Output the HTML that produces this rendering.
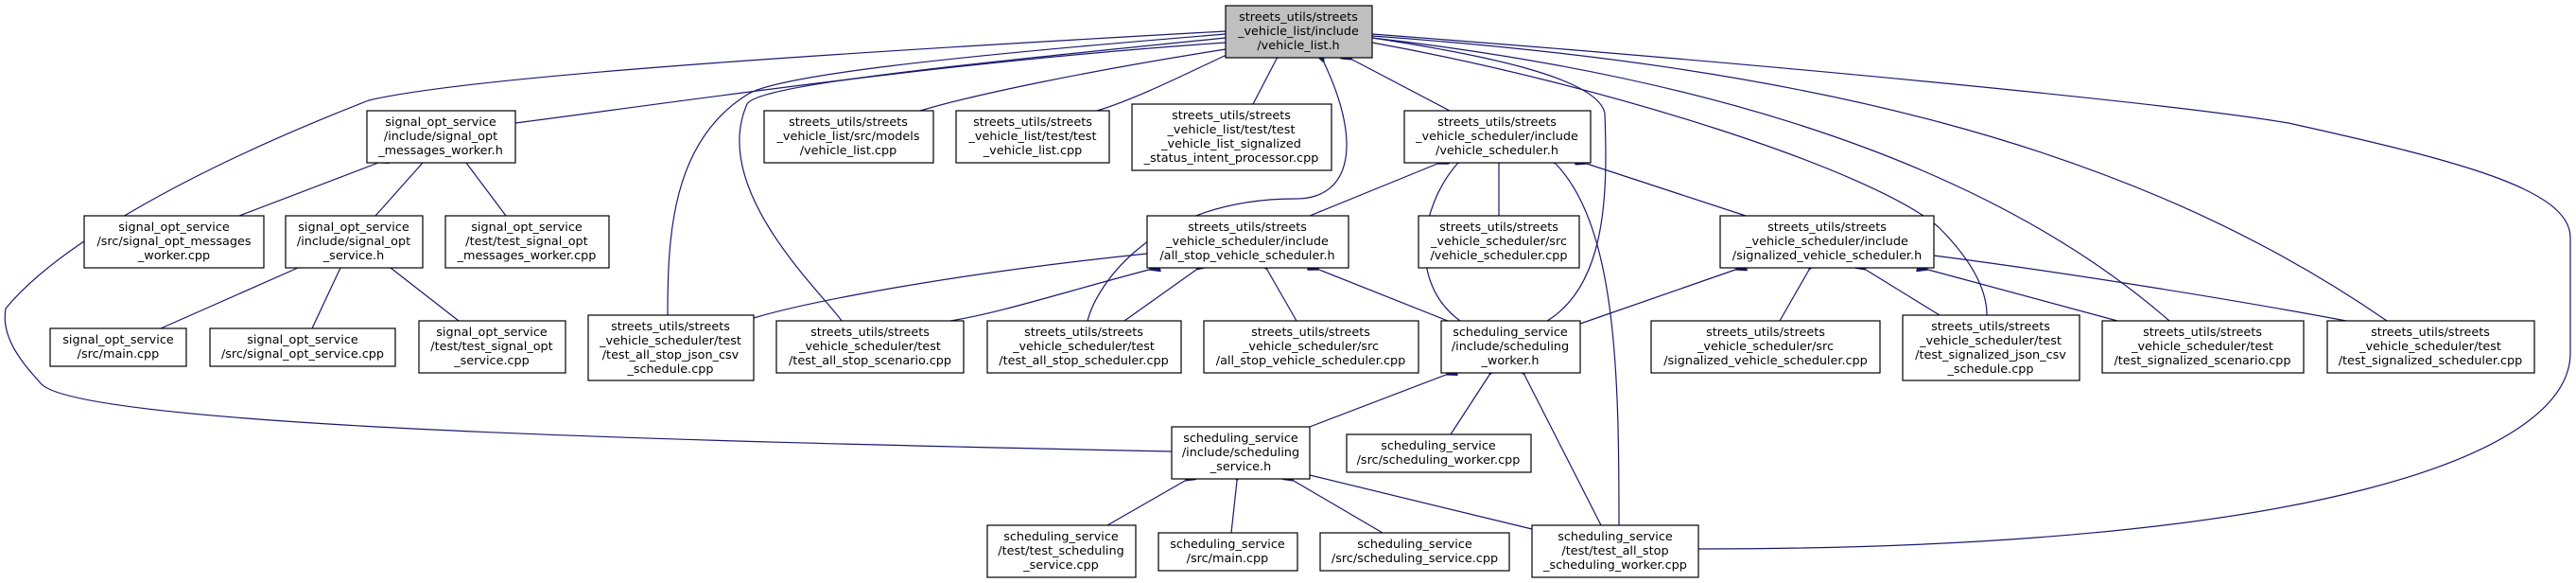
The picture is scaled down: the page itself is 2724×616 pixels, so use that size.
<!DOCTYPE html>
<html><head><meta charset="utf-8"><style>
html,body{margin:0;padding:0;background:#fff;}
svg{display:block;}
text{font-family:"DejaVu Sans","Liberation Sans",sans-serif;font-size:12.8px;fill:#000;text-anchor:middle;}
rect{stroke:#000;stroke-width:1.2;fill:#fff;}
path{fill:none;stroke:#191970;stroke-width:1.2;marker-start:url(#a);}
</style></head><body>
<svg width="2724" height="616" viewBox="0 0 2724 616" xmlns="http://www.w3.org/2000/svg">
<defs><marker id="a" markerUnits="userSpaceOnUse" markerWidth="12" markerHeight="10" refX="0" refY="5" orient="auto-start-reverse"><path d="M0,5 L12,0 L12,10 Z" style="fill:#191970;stroke:#191970;marker-start:none"/></marker></defs>

<path d="M1296,45 C1000,65 700,110 545,130"/>
<path d="M1296,52 C1150,75 1030,100 973,117"/>
<path d="M1297,58 C1250,80 1200,105 1160,117"/>
<path d="M1350,62 L1325,110"/>
<path d="M1430,63 L1533,117"/>
<path d="M1296,36 C1000,60 820,80 790,100 C710,150 706,250 706,333"/>
<path d="M1296,40 C1000,70 800,90 790,110 C750,200 870,310 890,339"/>
<path d="M1400,66 C1440,150 1430,210 1370,210 C1220,210 1160,300 1150,339"/>
<path d="M1296,33 C900,55 500,80 390,106 C200,180 60,260 6,326 C0,360 30,390 43,405 C80,450 700,466 1239,477"/>
<path d="M1451,40 C1550,55 1690,80 1697,120 C1700,200 1700,300 1636,339"/>
<path d="M1451,45 C1700,90 1980,180 2050,240 C2090,280 2101,310 2101,333"/>
<path d="M1451,40 C1800,80 2100,170 2294,339"/>
<path d="M1451,38 C1900,70 2250,150 2524,339"/>
<path d="M1451,36 C1900,70 2300,110 2420,130 C2600,170 2718,200 2718,251 L2718,373 C2718,480 2450,580 1796,580"/>

<path d="M400,172 L253,228"/>
<path d="M447,172 L397,228"/>
<path d="M493,172 L535,228"/>
<path d="M315,283 L170,347"/>
<path d="M360,283 L330,347"/>
<path d="M413,283 L485,339"/>
<path d="M1520,173 L1385,228"/>
<path d="M1541,173 C1500,220 1490,300 1544,339"/>
<path d="M1585,173 L1585,228"/>
<path d="M1678,173 L1846,228"/>
<path d="M1645,173 C1710,240 1712,400 1712,555"/>
<path d="M1213,268 C1000,290 850,320 797,336"/>
<path d="M1215,285 C1120,310 1060,330 1005,339"/>
<path d="M1265,285 L1189,339"/>
<path d="M1340,285 L1371,339"/>
<path d="M1395,285 L1531,339"/>
<path d="M1835,285 L1671,342"/>
<path d="M1913,285 L1882,339"/>
<path d="M1973,285 L2051,333"/>
<path d="M2039,285 L2239,339"/>
<path d="M2045,270 C2200,290 2380,320 2481,339"/>
<path d="M1529,396 L1385,451"/>
<path d="M1575,396 L1534,459"/>
<path d="M1612,396 L1693,555"/>
<path d="M1253,508 L1171,555"/>
<path d="M1308,508 L1302,563"/>
<path d="M1368,508 L1462,563"/>
<path d="M1385,502 L1620,559"/>

<rect x="1296" y="6" width="155" height="55" style="fill:#bfbfbf"/>
<text x="1373" y="22">streets_utils/streets</text><text x="1373" y="37">_vehicle_list/include</text><text x="1373" y="52">/vehicle_list.h</text>

<rect x="388" y="117" width="157" height="55"/>
<text x="466" y="133">signal_opt_service</text><text x="466" y="148">/include/signal_opt</text><text x="466" y="163">_messages_worker.h</text>

<rect x="808" y="117" width="179" height="55"/>
<text x="897" y="133">streets_utils/streets</text><text x="897" y="148">_vehicle_list/src/models</text><text x="897" y="163">/vehicle_list.cpp</text>

<rect x="1011" y="117" width="162" height="55"/>
<text x="1092" y="133">streets_utils/streets</text><text x="1092" y="148">_vehicle_list/test/test</text><text x="1092" y="163">_vehicle_list.cpp</text>

<rect x="1197" y="110" width="211" height="70"/>
<text x="1302" y="126">streets_utils/streets</text><text x="1302" y="141">_vehicle_list/test/test</text><text x="1302" y="156">_vehicle_list_signalized</text><text x="1302" y="171">_status_intent_processor.cpp</text>

<rect x="1485" y="117" width="197" height="55"/>
<text x="1583" y="133">streets_utils/streets</text><text x="1583" y="148">_vehicle_scheduler/include</text><text x="1583" y="163">/vehicle_scheduler.h</text>

<rect x="89" y="228" width="190" height="55"/>
<text x="184" y="244">signal_opt_service</text><text x="184" y="259">/src/signal_opt_messages</text><text x="184" y="274">_worker.cpp</text>

<rect x="302" y="228" width="145" height="55"/>
<text x="374" y="244">signal_opt_service</text><text x="374" y="259">/include/signal_opt</text><text x="374" y="274">_service.h</text>

<rect x="471" y="228" width="173" height="55"/>
<text x="557" y="244">signal_opt_service</text><text x="557" y="259">/test/test_signal_opt</text><text x="557" y="274">_messages_worker.cpp</text>

<rect x="1213" y="228" width="213" height="55"/>
<text x="1319" y="244">streets_utils/streets</text><text x="1319" y="259">_vehicle_scheduler/include</text><text x="1319" y="274">/all_stop_vehicle_scheduler.h</text>

<rect x="1500" y="228" width="170" height="55"/>
<text x="1585" y="244">streets_utils/streets</text><text x="1585" y="259">_vehicle_scheduler/src</text><text x="1585" y="274">/vehicle_scheduler.cpp</text>

<rect x="1819" y="228" width="226" height="55"/>
<text x="1932" y="244">streets_utils/streets</text><text x="1932" y="259">_vehicle_scheduler/include</text><text x="1932" y="274">/signalized_vehicle_scheduler.h</text>

<rect x="53" y="347" width="144" height="40"/>
<text x="125" y="363">signal_opt_service</text><text x="125" y="378">/src/main.cpp</text>

<rect x="222" y="347" width="196" height="40"/>
<text x="320" y="363">signal_opt_service</text><text x="320" y="378">/src/signal_opt_service.cpp</text>

<rect x="443" y="339" width="155" height="55"/>
<text x="520" y="355">signal_opt_service</text><text x="520" y="370">/test/test_signal_opt</text><text x="520" y="385">_service.cpp</text>

<rect x="622" y="333" width="175" height="69"/>
<text x="709" y="349">streets_utils/streets</text><text x="709" y="364">_vehicle_scheduler/test</text><text x="709" y="379">/test_all_stop_json_csv</text><text x="709" y="394">_schedule.cpp</text>

<rect x="821" y="339" width="198" height="55"/>
<text x="920" y="355">streets_utils/streets</text><text x="920" y="370">_vehicle_scheduler/test</text><text x="920" y="385">/test_all_stop_scenario.cpp</text>

<rect x="1044" y="339" width="205" height="55"/>
<text x="1146" y="355">streets_utils/streets</text><text x="1146" y="370">_vehicle_scheduler/test</text><text x="1146" y="385">/test_all_stop_scheduler.cpp</text>

<rect x="1273" y="339" width="227" height="55"/>
<text x="1386" y="355">streets_utils/streets</text><text x="1386" y="370">_vehicle_scheduler/src</text><text x="1386" y="385">/all_stop_vehicle_scheduler.cpp</text>

<rect x="1524" y="339" width="147" height="55"/>
<text x="1597" y="355">scheduling_service</text><text x="1597" y="370">/include/scheduling</text><text x="1597" y="385">_worker.h</text>

<rect x="1746" y="339" width="242" height="55"/>
<text x="1867" y="355">streets_utils/streets</text><text x="1867" y="370">_vehicle_scheduler/src</text><text x="1867" y="385">/signalized_vehicle_scheduler.cpp</text>

<rect x="2012" y="333" width="187" height="69"/>
<text x="2105" y="349">streets_utils/streets</text><text x="2105" y="364">_vehicle_scheduler/test</text><text x="2105" y="379">/test_signalized_json_csv</text><text x="2105" y="394">_schedule.cpp</text>

<rect x="2223" y="339" width="213" height="55"/>
<text x="2329" y="355">streets_utils/streets</text><text x="2329" y="370">_vehicle_scheduler/test</text><text x="2329" y="385">/test_signalized_scenario.cpp</text>

<rect x="2461" y="339" width="219" height="55"/>
<text x="2570" y="355">streets_utils/streets</text><text x="2570" y="370">_vehicle_scheduler/test</text><text x="2570" y="385">/test_signalized_scheduler.cpp</text>

<rect x="1239" y="451" width="146" height="55"/>
<text x="1312" y="467">scheduling_service</text><text x="1312" y="482">/include/scheduling</text><text x="1312" y="497">_service.h</text>

<rect x="1424" y="459" width="195" height="40"/>
<text x="1521" y="475">scheduling_service</text><text x="1521" y="490">/src/scheduling_worker.cpp</text>

<rect x="1044" y="555" width="157" height="55"/>
<text x="1122" y="571">scheduling_service</text><text x="1122" y="586">/test/test_scheduling</text><text x="1122" y="601">_service.cpp</text>

<rect x="1225" y="563" width="147" height="40"/>
<text x="1298" y="579">scheduling_service</text><text x="1298" y="594">/src/main.cpp</text>

<rect x="1396" y="563" width="200" height="40"/>
<text x="1496" y="579">scheduling_service</text><text x="1496" y="594">/src/scheduling_service.cpp</text>

<rect x="1620" y="555" width="176" height="55"/>
<text x="1708" y="571">scheduling_service</text><text x="1708" y="586">/test/test_all_stop</text><text x="1708" y="601">_scheduling_worker.cpp</text>
</svg>
</body></html>
